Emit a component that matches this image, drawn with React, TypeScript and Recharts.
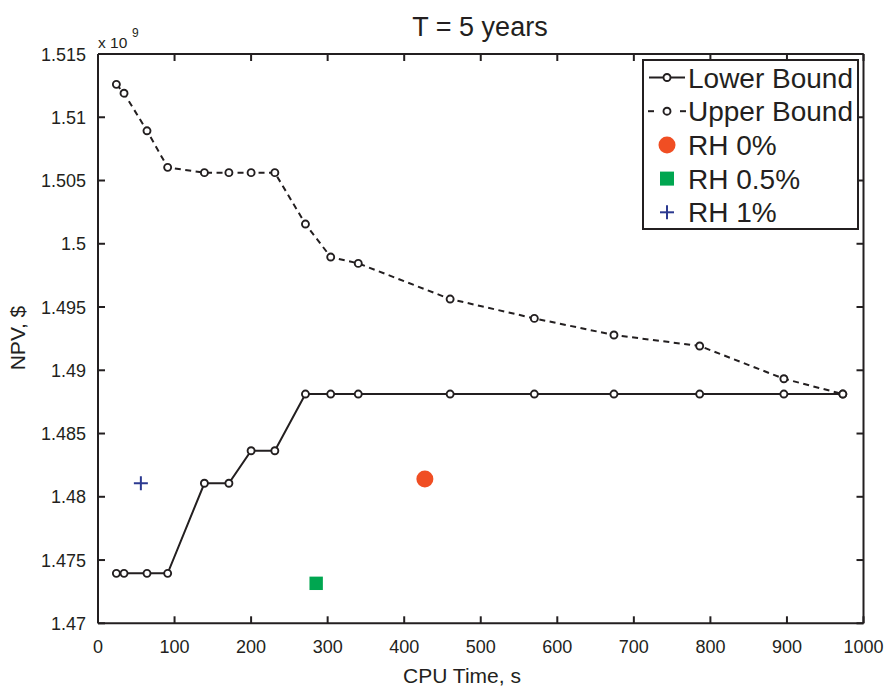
import React from 'react';
import { ScatterChart, Scatter, XAxis, YAxis, Legend, Customized } from 'recharts';

// ---- data (NPV in units of 1e9 $) ----
const cpuTimes = [24, 34, 64, 91, 139, 171, 200, 231, 271, 304, 340, 460, 570, 674, 786, 896, 973];
const lowerBound = [1.47395, 1.47395, 1.47395, 1.47395, 1.48107, 1.48107, 1.48364, 1.48364, 1.48812, 1.48812, 1.48812, 1.48812, 1.48812, 1.48812, 1.48812, 1.48812, 1.48812];
const upperBound = [1.5126, 1.5119, 1.50893, 1.50604, 1.50562, 1.50562, 1.50562, 1.50562, 1.50156, 1.49895, 1.49845, 1.49563, 1.4941, 1.49279, 1.49192, 1.48933, 1.48812];
const rh0 = { x: 427, y: 1.4814 };
const rh05 = { x: 285, y: 1.47316 };
const rh1 = { x: 56, y: 1.48107 };

const xTicks = [0, 100, 200, 300, 400, 500, 600, 700, 800, 900, 1000];
const yTicks = [1.47, 1.475, 1.48, 1.485, 1.49, 1.495, 1.5, 1.505, 1.51, 1.515];
const legendLabels = ['Lower Bound', 'Upper Bound', 'RH 0%', 'RH 0.5%', 'RH 1%'];

const lowerData = cpuTimes.map((x, i) => ({ x, y: lowerBound[i] }));
const upperData = cpuTimes.map((x, i) => ({ x, y: upperBound[i] }));

const INK = '#231f20';
const FONT = '"Liberation Sans", Arial, Helvetica, sans-serif';
const ORANGE = '#f04e23';
const GREEN = '#00a650';
const BLUE = '#2b3990';
const TICK_LEN = 7;

const OpenDot = (props: any) => (
  <circle cx={props.cx} cy={props.cy} r={3.5} fill="#fff" stroke={INK} strokeWidth={1.9} />
);
const BigDot = (props: any) => <circle cx={props.cx} cy={props.cy} r={8.5} fill={ORANGE} />;
const Square = (props: any) => (
  <rect x={props.cx - 6.7} y={props.cy - 6.7} width={13.4} height={13.4} fill={GREEN} />
);
const Plus = (props: any) => (
  <g stroke={BLUE} strokeWidth={2}>
    <line x1={props.cx - 7} x2={props.cx + 7} y1={props.cy} y2={props.cy} />
    <line x1={props.cx} x2={props.cx} y1={props.cy - 7} y2={props.cy + 7} />
  </g>
);

// inward (MATLAB-style) tick marks drawn at the positions the axes compute
const BOTTOM_M = 17;
const LEFT_M = 12;
const EDGE_M = 2;

const BottomTick = (props: any) => {
  const { x, y, payload } = props;
  const y0 = y - BOTTOM_M;
  return (
    <g>
      <line x1={x} x2={x} y1={y0} y2={y0 - TICK_LEN} stroke={INK} strokeWidth={2} />
      <text x={x} y={y + 13} textAnchor="middle" fontSize={18} fontFamily={FONT} fill={INK}>
        {String(payload.value)}
      </text>
    </g>
  );
};
const LeftTick = (props: any) => {
  const { x, y, payload } = props;
  const x0 = x + LEFT_M;
  return (
    <g>
      <line x1={x0} x2={x0 + TICK_LEN} y1={y} y2={y} stroke={INK} strokeWidth={2} />
      <text x={x} y={y + 6.5} textAnchor="end" fontSize={18} fontFamily={FONT} fill={INK}>
        {String(payload.value)}
      </text>
    </g>
  );
};
const TopTick = (props: any) => {
  const { x, y } = props;
  const y0 = y + EDGE_M;
  return <line x1={x} x2={x} y1={y0} y2={y0 + TICK_LEN} stroke={INK} strokeWidth={2} />;
};
const RightTick = (props: any) => {
  const { x, y } = props;
  const x0 = x - EDGE_M;
  return <line x1={x0} x2={x0 - TICK_LEN} y1={y} y2={y} stroke={INK} strokeWidth={2} />;
};

const LegendBox = () => {
  const rowY = (i: number) => 18.5 + i * 33.7;
  return (
    <svg width={218} height={172} style={{ display: 'block', fontFamily: FONT }}>
      <rect x={1} y={1} width={215} height={169} fill="#fff" stroke={INK} strokeWidth={2} />
      <line x1={7} x2={43} y1={rowY(0)} y2={rowY(0)} stroke={INK} strokeWidth={2} />
      <circle cx={25} cy={rowY(0)} r={3.5} fill="#fff" stroke={INK} strokeWidth={1.9} />
      <line x1={6} x2={12} y1={rowY(1)} y2={rowY(1)} stroke={INK} strokeWidth={2} />
      <line x1={38} x2={44} y1={rowY(1)} y2={rowY(1)} stroke={INK} strokeWidth={2} />
      <circle cx={25} cy={rowY(1)} r={3.5} fill="#fff" stroke={INK} strokeWidth={1.9} />
      <circle cx={25} cy={rowY(2)} r={8.5} fill={ORANGE} />
      <rect x={18} y={rowY(3) - 7} width={14} height={14} fill={GREEN} />
      <g stroke={BLUE} strokeWidth={2}>
        <line x1={18} x2={32} y1={rowY(4)} y2={rowY(4)} />
        <line x1={25} x2={25} y1={rowY(4) - 7} y2={rowY(4) + 7} />
      </g>
      {legendLabels.map((t, i) => (
        <text key={t} x={46} y={rowY(i) + 10} fontSize={28} fill={INK}>
          {t}
        </text>
      ))}
    </svg>
  );
};

const Annotations = () => (
  <g fontFamily={FONT} fill={INK}>
    <text x={480} y={36} fontSize={27} textAnchor="middle">T = 5 years</text>
    <text x={462} y={683} fontSize={21} textAnchor="middle">CPU Time, s</text>
    <text x={25} y={338} fontSize={21} textAnchor="middle" transform="rotate(-90 25 338)">NPV, $</text>
    <text x={98} y={48} fontSize={15.5}>x 10</text>
    <text x={132} y={37} fontSize={12}>9</text>
  </g>
);

export default function App() {
  const axisLine = { stroke: INK, strokeWidth: 2 };
  return (
    <div style={{ position: 'fixed', left: 0, top: 0, width: 886, height: 686, background: '#fff' }}>
      <ScatterChart
        width={886}
        height={686}
        margin={{ top: 44, right: 12.5, bottom: 12.7, left: 18 }}
        style={{ fontFamily: FONT }}
      >
        <XAxis xAxisId={0} type="number" dataKey="x" domain={[0, 1000]} ticks={xTicks} allowDataOverflow interval={0}
          height={50} tickSize={0} tickMargin={BOTTOM_M} tickLine={false} tick={<BottomTick />} axisLine={axisLine} />
        <XAxis xAxisId="top" orientation="top" type="number" dataKey="x" domain={[0, 1000]} ticks={xTicks} allowDataOverflow interval={0}
          height={10} tickSize={0} tickMargin={EDGE_M} tickLine={false} tick={<TopTick />} axisLine={axisLine} />
        <YAxis yAxisId={0} type="number" dataKey="y" domain={[1.47, 1.515]} ticks={yTicks} allowDataOverflow interval={0}
          width={80} tickSize={0} tickMargin={LEFT_M} tickLine={false} tick={<LeftTick />} axisLine={axisLine} />
        <YAxis yAxisId="right" orientation="right" type="number" dataKey="y" domain={[1.47, 1.515]} ticks={yTicks} allowDataOverflow interval={0}
          width={10} tickSize={0} tickMargin={EDGE_M} tickLine={false} tick={<RightTick />} axisLine={axisLine} />
        <Scatter name="Lower Bound" data={lowerData} xAxisId={0} yAxisId={0} line={{ stroke: INK, strokeWidth: 2 }} shape={OpenDot} isAnimationActive={false} />
        <Scatter name="Upper Bound" data={upperData} xAxisId={0} yAxisId={0} line={{ stroke: INK, strokeWidth: 2, strokeDasharray: '6 4.5' }} shape={OpenDot} isAnimationActive={false} />
        <Scatter name="RH 0%" data={[rh0]} xAxisId={0} yAxisId={0} shape={BigDot} isAnimationActive={false} />
        <Scatter name="RH 0.5%" data={[rh05]} xAxisId={0} yAxisId={0} shape={Square} isAnimationActive={false} />
        <Scatter name="RH 1%" data={[rh1]} xAxisId={0} yAxisId={0} shape={Plus} isAnimationActive={false} />
        <Legend layout="horizontal" verticalAlign="middle" align="center" content={() => <LegendBox />}
          wrapperStyle={{ position: 'absolute', left: 642, top: 59, width: 218, height: 172 }} />
        <Customized component={Annotations} />
      </ScatterChart>
    </div>
  );
}
